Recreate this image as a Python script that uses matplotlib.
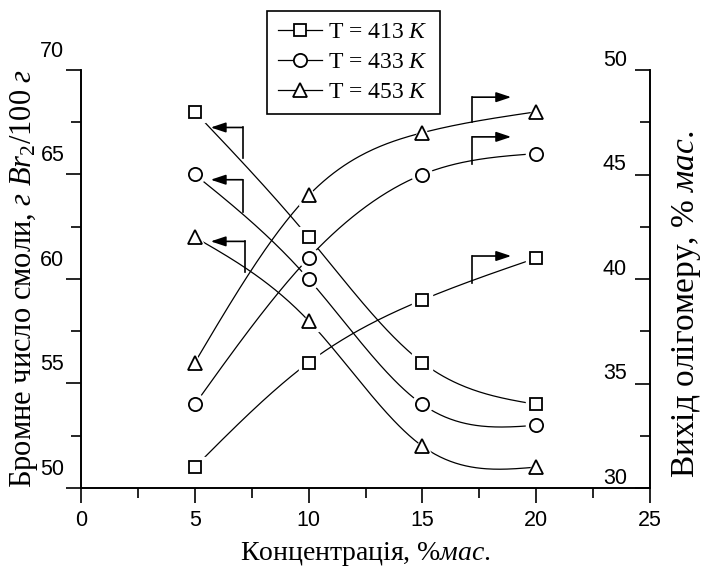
import numpy as np
import matplotlib
matplotlib.use("Agg")
import matplotlib.pyplot as plt
from matplotlib.lines import Line2D
from matplotlib.transforms import ScaledTranslation
from matplotlib.ticker import MultipleLocator

# data
conc = [5, 10, 15, 20]
temps = ["413", "433", "453"]
markers = ["s", "o", "^"]
bromine = {
    "413": [68, 62, 56, 54],
    "433": [65, 60, 54, 53],
    "453": [62, 58, 52, 51],
}
yield_ = {
    "413": [31, 36, 39, 41],
    "433": [34, 41, 45, 46],
    "453": [36, 44, 47, 48],
}

plt.rcParams["mathtext.fontset"] = "custom"
plt.rcParams["mathtext.rm"] = "Liberation Serif"
plt.rcParams["mathtext.it"] = "Liberation Serif:italic"


def smooth(x, y, n=200):
    # natural cubic spline, only used to draw the connecting curve
    x = np.asarray(x, float)
    y = np.asarray(y, float)
    h = np.diff(x)
    m = len(x)
    A = np.zeros((m, m))
    b = np.zeros(m)
    A[0, 0] = A[-1, -1] = 1
    for i in range(1, m - 1):
        A[i, i - 1] = h[i - 1]
        A[i, i] = 2 * (h[i - 1] + h[i])
        A[i, i + 1] = h[i]
        b[i] = 3 * ((y[i + 1] - y[i]) / h[i] - (y[i] - y[i - 1]) / h[i - 1])
    c = np.linalg.solve(A, b)
    bc = (y[1:] - y[:-1]) / h - h * (2 * c[:-1] + c[1:]) / 3
    d = (c[1:] - c[:-1]) / (3 * h)
    xs = np.linspace(x[0], x[-1], n)
    idx = np.clip(np.searchsorted(x, xs) - 1, 0, m - 2)
    dx = xs - x[idx]
    ys = y[idx] + bc[idx] * dx + c[idx] * dx ** 2 + d[idx] * dx ** 3
    return xs, ys


fig = plt.figure(figsize=(7.05, 5.75), dpi=100)
ax = fig.add_axes([81 / 705, 1 - 488 / 575, (650 - 81) / 705, (488 - 70) / 575])
ax2 = ax.twinx()

ms = {"s": 9, "o": 9.5, "^": 10}


def draw(a, x, y, mk):
    xs, ys = smooth(x, y)
    a.plot(xs, ys, color="black", lw=0.9, zorder=2)
    a.plot(x, y, ls="none", marker=mk, ms=ms[mk] + 5, mfc="white", mec="white", zorder=3)
    a.plot(x, y, ls="none", marker=mk, ms=ms[mk], mfc="white", mec="black", mew=1.3, zorder=4)


for t, mk in zip(temps, markers):
    draw(ax, conc, bromine[t], mk)
    draw(ax2, conc, yield_[t], mk)

# arrows showing which axis a curve belongs to
arr = dict(arrowstyle="-|>,head_length=0.9,head_width=0.3", color="black", lw=1.2,
           shrinkA=0, shrinkB=0)
left_arrows = [(7.1, 65.8, 67.25), (7.1, 63.2, 64.75), (7.2, 60.35, 61.8)]
for xa, y0, y1 in left_arrows:
    ax.plot([xa, xa], [y0, y1], color="black", lw=1.2, zorder=5)
    ax.annotate("", xy=(5.7, y1), xytext=(xa, y1), arrowprops=arr, zorder=5)
right_arrows = [(17.2, 39.8, 41.1), (17.2, 45.5, 46.8), (17.2, 47.5, 48.7)]
for xa, y0, y1 in right_arrows:
    ax2.plot([xa, xa], [y0, y1], color="black", lw=1.2, zorder=5)
    ax2.annotate("", xy=(18.9, y1), xytext=(xa, y1), arrowprops=arr, zorder=5)

ax.set_xlim(0, 25)
ax.set_ylim(50, 70)
ax2.set_ylim(30, 50)
ax.set_xticks([0, 5, 10, 15, 20, 25])
ax.xaxis.set_minor_locator(MultipleLocator(2.5))
ax.set_yticks([50, 55, 60, 65, 70])
ax.yaxis.set_minor_locator(MultipleLocator(2.5))
ax2.set_yticks([30, 35, 40, 45, 50])
ax2.yaxis.set_minor_locator(MultipleLocator(2.5))

for a in (ax, ax2):
    a.spines["top"].set_visible(False)
    for s in a.spines.values():
        s.set_linewidth(1.2)

ax.tick_params(axis="x", which="major", direction="out", length=11, width=1.2,
               labelsize=15.5, pad=5)
ax.tick_params(axis="y", which="major", direction="out", length=11, width=1.2,
               labelsize=15.5, pad=1)
ax.tick_params(axis="both", which="minor", direction="out", length=7, width=1.2)
ax2.tick_params(axis="y", which="major", direction="in", length=11, width=1.2,
                labelsize=15.5, pad=-34)
ax2.tick_params(axis="y", which="minor", direction="in", length=7, width=1.2)

for lab in ax.get_xticklabels() + ax.get_yticklabels() + ax2.get_yticklabels():
    lab.set_fontfamily("Liberation Sans")

# tick labels sit a little above their ticks in the reference
for tk in ax.yaxis.get_major_ticks():
    tk.label1.set_transform(tk.label1.get_transform() +
                            ScaledTranslation(0, 0.21, fig.dpi_scale_trans))
for tk in ax2.yaxis.get_major_ticks():
    tk.label2.set_transform(tk.label2.get_transform() +
                            ScaledTranslation(0, 0.12, fig.dpi_scale_trans))

ax.set_xlabel("Концентрація, $\\mathit{\\%мас.}$", family="Liberation Serif",
              fontsize=20, labelpad=6)
ax.set_ylabel("Бромне число смоли, $\\mathit{г\\ Br_2/100\\ г}$",
              family="Liberation Serif", fontsize=22, labelpad=0)
ax2.set_ylabel("Вихід олігомеру, $\\mathit{\\%\\ мас.}$", family="Liberation Serif",
               fontsize=24)
ax2.yaxis.set_label_coords(1.036, 0.44)

handles = [Line2D([], [], color="black", lw=0.9, marker=mk, ms=ms[mk], mfc="white",
                  mec="black", mew=1.3) for mk in markers]
labels = ["T = %s $\\mathit{K}$" % t for t in temps]
leg = fig.legend(handles, labels, loc="center",
                 bbox_to_anchor=(267 / 705, 1 - 115 / 575, 173 / 705, 105 / 575),
                 mode="expand", frameon=True, fancybox=False, framealpha=1,
                 edgecolor="black", handlelength=1.9, borderaxespad=0,
                 prop={"family": "Liberation Serif", "size": 17}, labelspacing=0.35,
                 handletextpad=0.25, borderpad=0.45)
leg.get_frame().set_linewidth(1.2)
leg.set_zorder(10)

fig.savefig("out.png", dpi=100)
